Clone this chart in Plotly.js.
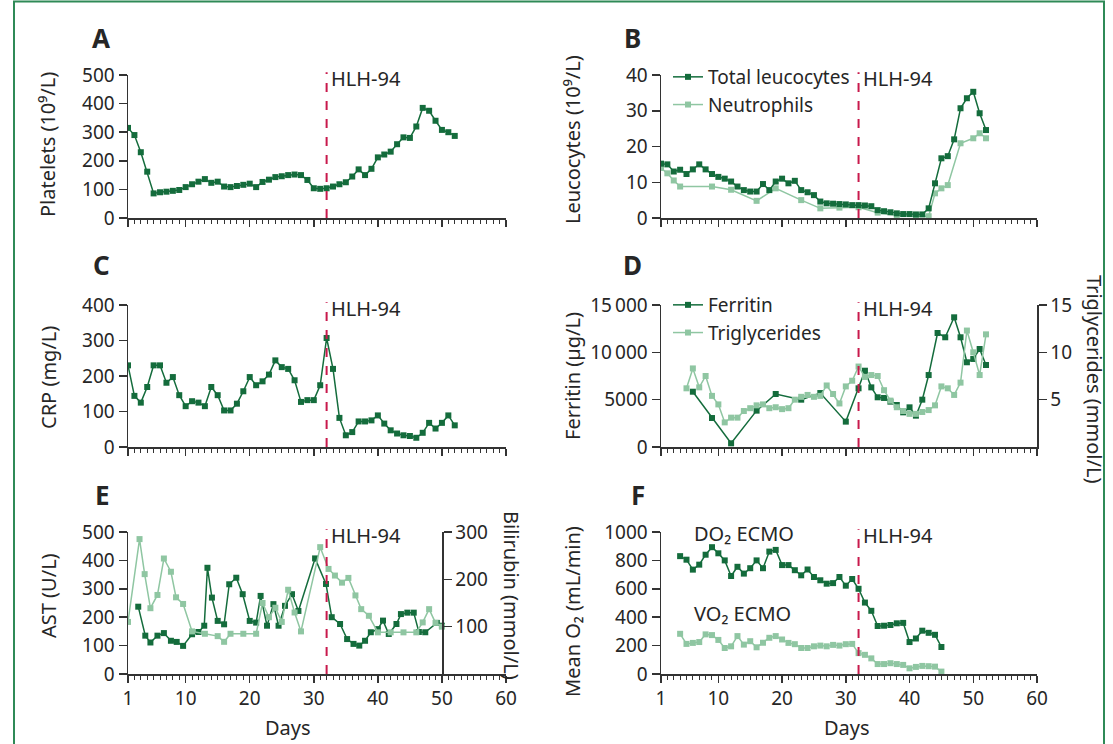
<!DOCTYPE html>
<html><head><meta charset="utf-8">
<script src="https://cdn.plot.ly/plotly-3.0.1.min.js"></script>
<style>html,body{margin:0;padding:0;background:#fff}#chart{width:1113px;height:744px}</style>
</head><body><div id="chart"></div>
<script>
// ---------- DATA ----------
const xTickVals = [1, 10, 20, 30, 40, 50, 60];
const hlhDay = 32;

// A: platelets
const plateletDays = [1,2,3,4,5,6,7,8,9,10,11,12,13,14,15,16,17,18,19,20,21,22,23,24,25,26,27,28,29,30,31,32,33,34,35,36,37,38,39,40,41,42,43,44,45,46,47,48,49,50,51,52];
const platelets = [315,290,230,162,86,90,92,95,98,108,118,127,136,123,127,110,108,112,116,120,108,126,134,143,146,150,152,150,133,104,102,104,110,118,125,145,170,150,172,212,222,232,258,282,280,320,385,375,340,308,300,287];

// B: leucocytes
const leucoDays = [1,2,3,4,5,6,7,8,9,10,11,12,13,14,15,16,17,18,19,20,21,22,23,24,25,26,27,28,29,30,31,32,33,34,35,36,37,38,39,40,41,42,43,44,45,46,47,48,49,50,51,52];
const totalLeucocytes = [15.2,15,13,13.5,12.3,13.6,15,13.6,12.3,11.5,11,10.2,8.8,7.8,7.4,7.4,9.5,7.8,10.2,11,9.7,10.4,7.8,7.2,6.4,4.6,4.1,4.0,3.9,3.8,3.6,3.6,3.5,3.3,2.2,1.9,1.6,1.3,1.1,1.1,1.0,1.0,2.7,9.7,16.7,17.3,22,30.7,33.5,35.3,29.3,24.6];
const neutroDays = [1,2,3,4,9,12,16,19,23,26,29,32,35,38,41,43,44,45,46,48,50,51,52];
const neutrophils = [14,12.5,10.5,8.8,8.8,7.9,4.8,8.3,5,2.7,2.9,3,1.5,0.8,0.5,0.5,6.9,8.3,9.2,20.9,22.3,23.7,22.3];

// C: CRP
const crpDays = [1,2,3,4,5,6,7,8,9,10,11,12,13,14,15,16,17,18,19,20,21,22,23,24,25,26,27,28,29,30,31,32,33,34,35,36,37,38,39,40,41,42,43,44,45,46,47,48,49,50,51,52];
const crp = [230,144,125,169,230,230,181,197,146,115,129,125,115,169,146,103,103,122,157,197,174,185,204,244,225,220,188,127,132,132,174,307,220,82,33,42,72,72,75,89,66,47,38,33,31,26,40,68,52,68,89,61];

// D: ferritin / triglycerides
const ferritinDays = [6,9,12,16,19,23,26,30,32,33,34,35,36,37,38,39,40,41,42,43,44.4,45.6,47,48,49,50,51,52];
const ferritin = [5840,3060,390,3840,5600,5000,5700,2680,6200,8060,6300,5250,5180,4790,4440,3660,4190,3310,5000,7600,12040,11590,13700,11590,8950,9300,10350,8660];
const trigDays = [5,6,7,8,9,10,11,12,13,14,15,16,17,18,19,20,21,22,23,24,25,26,27,28,29,30,31,32,33,34,35,36,37,38,39,40,41,42,43,44,45,46,47,48,49,50,51,52];
const triglycerides = [6.2,8.3,6.3,7.5,5.4,4.5,2.6,3.1,3.1,3.8,4.1,4.4,4.5,4.1,4.2,4.0,4.1,5.0,5.3,5.5,5.3,5.4,6.5,5.6,4.6,6.4,7.0,8.5,7.4,7.6,7.5,6.0,4.9,4.2,3.8,3.5,3.5,3.7,3.9,4.4,6.4,6.2,5.5,6.8,12.3,10.0,7.6,11.9];

// E: AST / bilirubin
const astDays = [2.6,3.7,4.5,5.6,6.6,7.7,8.6,9.6,11,12,12.9,13.4,14.1,15,16,16.8,17.9,18.9,20,21,21.7,22.7,23.7,24.5,25.5,26.6,27.6,30.2,31.9,32.8,34.1,35.2,36.2,37.1,38,38.9,40,40.8,41.7,42.9,43.6,44.6,45.6,46.4,47.4,49.2,50];
const ast = [237,135,111,135,144,117,113,99,140,148,170,374,269,187,175,316,339,281,187,181,275,170,246,170,240,281,222,407,317,200,176,123,106,100,117,147,158,188,141,176,211,216,216,148,147,180,170];
const biliDays = [1,2.8,3.6,4.5,5.6,6.6,7.7,8.5,9.6,11,13,15,16,17,19,21,22,23,24,25,26,27,28,31,32.3,33.3,34.4,35.4,36.5,37.4,38.6,40,42,44,46,47,48,49,50];
const bilirubin = [110,285,211,139,167,244,216,162,148,90,85,80,68,85,85,85,150,120,140,110,178,130,90,268,222,208,193,203,166,137,123,88,88,88,88,109,137,108,100];

// F: mean O2
const o2Days = [4,5,6,7,8,9,10,11,12,13,14,15,16,17,18,19,20,21,22,23,24,25,26,27,28,29,30,31,32,33,34,35,36,37,38,39,40,41,42,43,44,45];
const do2 = [830,805,735,770,840,893,850,800,690,755,707,745,800,745,862,874,767,767,731,695,736,683,660,636,640,683,622,669,600,503,445,338,340,345,357,360,225,250,305,290,276,190];
const vo2 = [283,212,219,225,279,274,240,183,195,267,207,231,188,220,255,267,243,219,210,183,183,195,200,195,205,200,210,212,147,135,110,70,70,76,70,64,40,50,57,55,52,17];

// ---------- STYLE ----------
const W = 1113, H = 744;
const fx = p => p / W;
const fy = p => 1 - p / H;
const DARK = '#146c3c', LIGHT = '#8fc6a2', RED = '#c8194c', AX = '#333333', TXT = '#262626';
const FONT = '"Noto Sans", "Open Sans", sans-serif';

function series(x, y, color, xa, ya, name, legend) {
  return {x, y, type: 'scatter', mode: 'lines+markers', name,
    xaxis: xa, yaxis: ya,
    line: {color, width: 1.5},
    marker: {symbol: 'square', size: 6, color},
    showlegend: !!legend, legend: legend || 'legend', hoverinfo: 'skip'};
}

const traces = [
  series(plateletDays, platelets, DARK, 'x', 'y'),
  series(neutroDays, neutrophils, LIGHT, 'x2', 'y2', 'Neutrophils', 'legend'),
  series(leucoDays, totalLeucocytes, DARK, 'x2', 'y2', 'Total leucocytes', 'legend'),
  series(crpDays, crp, DARK, 'x3', 'y3'),
  series(trigDays, triglycerides, LIGHT, 'x4', 'y7', 'Triglycerides', 'legend2'),
  series(ferritinDays, ferritin, DARK, 'x4', 'y4', 'Ferritin', 'legend2'),
  series(biliDays, bilirubin, LIGHT, 'x5', 'y8'),
  series(astDays, ast, DARK, 'x5', 'y5'),
  series(o2Days, vo2, LIGHT, 'x6', 'y6'),
  series(o2Days, do2, DARK, 'x6', 'y6')
];

const leftCol = [fx(128), fx(506)];
const rightCol = [fx(661), fx(1037)];
const rows = [[fy(218), fy(75)], [fy(447), fy(305)], [fy(674), fy(532)]];

function xax(domain, anchor, labels) {
  return {domain, anchor, range: [1, 60], tickmode: 'array', tickvals: xTickVals,
    showticklabels: labels, ticks: 'outside', ticklen: 7, tickwidth: 1.5, tickcolor: AX,
    minor: {tickmode: 'linear', tick0: 0, dtick: 1, ticks: 'outside', ticklen: 4, tickwidth: 1, tickcolor: AX},
    showline: true, linecolor: AX, linewidth: 1.5, showgrid: false, zeroline: false,
    tickfont: {family: FONT, size: 19, color: TXT}, fixedrange: true};
}
function yax(domain, anchor, range, vals, text) {
  const a = {domain, anchor, range, tickmode: 'array', tickvals: vals,
    ticks: 'outside', ticklen: 8, tickwidth: 1.5, tickcolor: AX,
    showline: true, linecolor: AX, linewidth: 1.5, showgrid: false, zeroline: false,
    tickfont: {family: FONT, size: 19, color: TXT}, fixedrange: true};
  if (text) a.ticktext = text;
  return a;
}

const layout = {
  width: W, height: H, margin: {l: 0, r: 0, t: 0, b: 0},
  paper_bgcolor: '#ffffff', plot_bgcolor: 'rgba(0,0,0,0)',
  font: {family: FONT, color: TXT},
  xaxis: xax(leftCol, 'y', false),
  yaxis: yax(rows[0], 'x', [0, 500], [0, 100, 200, 300, 400, 500]),
  xaxis2: xax(rightCol, 'y2', false),
  yaxis2: yax(rows[0], 'x2', [0, 40], [0, 10, 20, 30, 40]),
  xaxis3: xax(leftCol, 'y3', false),
  yaxis3: yax(rows[1], 'x3', [0, 400], [0, 100, 200, 300, 400]),
  xaxis4: xax(rightCol, 'y4', false),
  yaxis4: yax(rows[1], 'x4', [0, 15000], [0, 5000, 10000, 15000], ['0', '5000', '10\u2009000', '15\u2009000']),
  xaxis5: xax(leftCol, 'y5', true),
  yaxis5: yax(rows[2], 'x5', [0, 500], [0, 100, 200, 300, 400, 500]),
  xaxis6: xax(rightCol, 'y6', true),
  yaxis6: yax(rows[2], 'x6', [0, 1000], [0, 200, 400, 600, 800, 1000]),
  yaxis7: Object.assign(yax(rows[1], 'x4', [0, 15], [5, 10, 15]), {overlaying: 'y4', side: 'right'}),
  yaxis8: Object.assign(yax(rows[2], 'free', [0, 300], [100, 200, 300]), {overlaying: 'y5', side: 'right', anchor: 'free', position: fx(442)}),
  legend: {x: fx(668), y: fy(58), xanchor: 'left', yanchor: 'top', bgcolor: 'rgba(0,0,0,0)',
    font: {family: FONT, size: 19, color: TXT}, traceorder: 'reversed', itemwidth: 30, tracegroupgap: 0},
  legend2: {x: fx(668), y: fy(286), xanchor: 'left', yanchor: 'top', bgcolor: 'rgba(0,0,0,0)',
    font: {family: FONT, size: 19, color: TXT}, traceorder: 'reversed', itemwidth: 30, tracegroupgap: 0},
  shapes: [], annotations: []
};

// HLH-94 markers
const panelAxes = [['x', 'y'], ['x2', 'y2'], ['x3', 'y3'], ['x4', 'y4'], ['x5', 'y5'], ['x6', 'y6']];
panelAxes.forEach(([xa, ya]) => {
  layout.shapes.push({type: 'line', xref: xa, yref: ya + ' domain', x0: hlhDay, x1: hlhDay, y0: 0, y1: 1.02,
    line: {color: RED, width: 2, dash: 'dash'}});
  layout.annotations.push({xref: xa, yref: ya + ' domain', x: hlhDay, y: 1.0, xanchor: 'left', yanchor: 'middle',
    xshift: 2, yshift: -3, text: 'HLH-94', showarrow: false, font: {family: FONT, size: 20, color: TXT}});
});

// frame
layout.shapes.push({type: 'rect', xref: 'paper', yref: 'paper', x0: fx(14), x1: fx(1104), y0: fy(760), y1: fy(1.5),
  line: {color: '#2f8a57', width: 2}, fillcolor: 'rgba(0,0,0,0)'});

function ann(text, px, py, opts) {
  layout.annotations.push(Object.assign({xref: 'paper', yref: 'paper', x: fx(px), y: fy(py), text, showarrow: false,
    xanchor: 'center', yanchor: 'middle', font: {family: FONT, size: 20, color: TXT}}, opts || {}));
}
// panel letters
[['A', 101, 38], ['B', 632, 38], ['C', 101, 265], ['D', 632, 265], ['E', 102, 495], ['F', 638, 495]].forEach(([t, x, y]) =>
  ann('<b>' + t + '</b>', x, y, {font: {family: FONT, size: 26, color: TXT}}));
// left axis titles
ann('Platelets (10\u2079/L)', 48, 145, {textangle: -90});
ann('Leucocytes (10\u2079/L)', 572, 140, {textangle: -90});
ann('CRP (mg/L)', 48, 378, {textangle: -90});
ann('Ferritin (\u00b5g/L)', 572, 376, {textangle: -90});
ann('AST (U/L)', 48, 596, {textangle: -90});
ann('Mean O\u2082 (mL/min)', 572, 612, {textangle: -90});
// right axis titles
ann('Triglycerides (mmol/L)', 1095, 379, {textangle: 90});
ann('Bilirubin (mmol/L)', 512, 595, {textangle: 90});
// panel F labels
ann('DO\u2082 ECMO', 692, 533, {xanchor: 'left'});
ann('VO\u2082 ECMO', 692, 613, {xanchor: 'left'});
// x titles
ann('Days', 288, 727);
ann('Days', 847, 727);

Plotly.newPlot('chart', traces, layout, {displayModeBar: false, staticPlot: true});
</script></body></html>
